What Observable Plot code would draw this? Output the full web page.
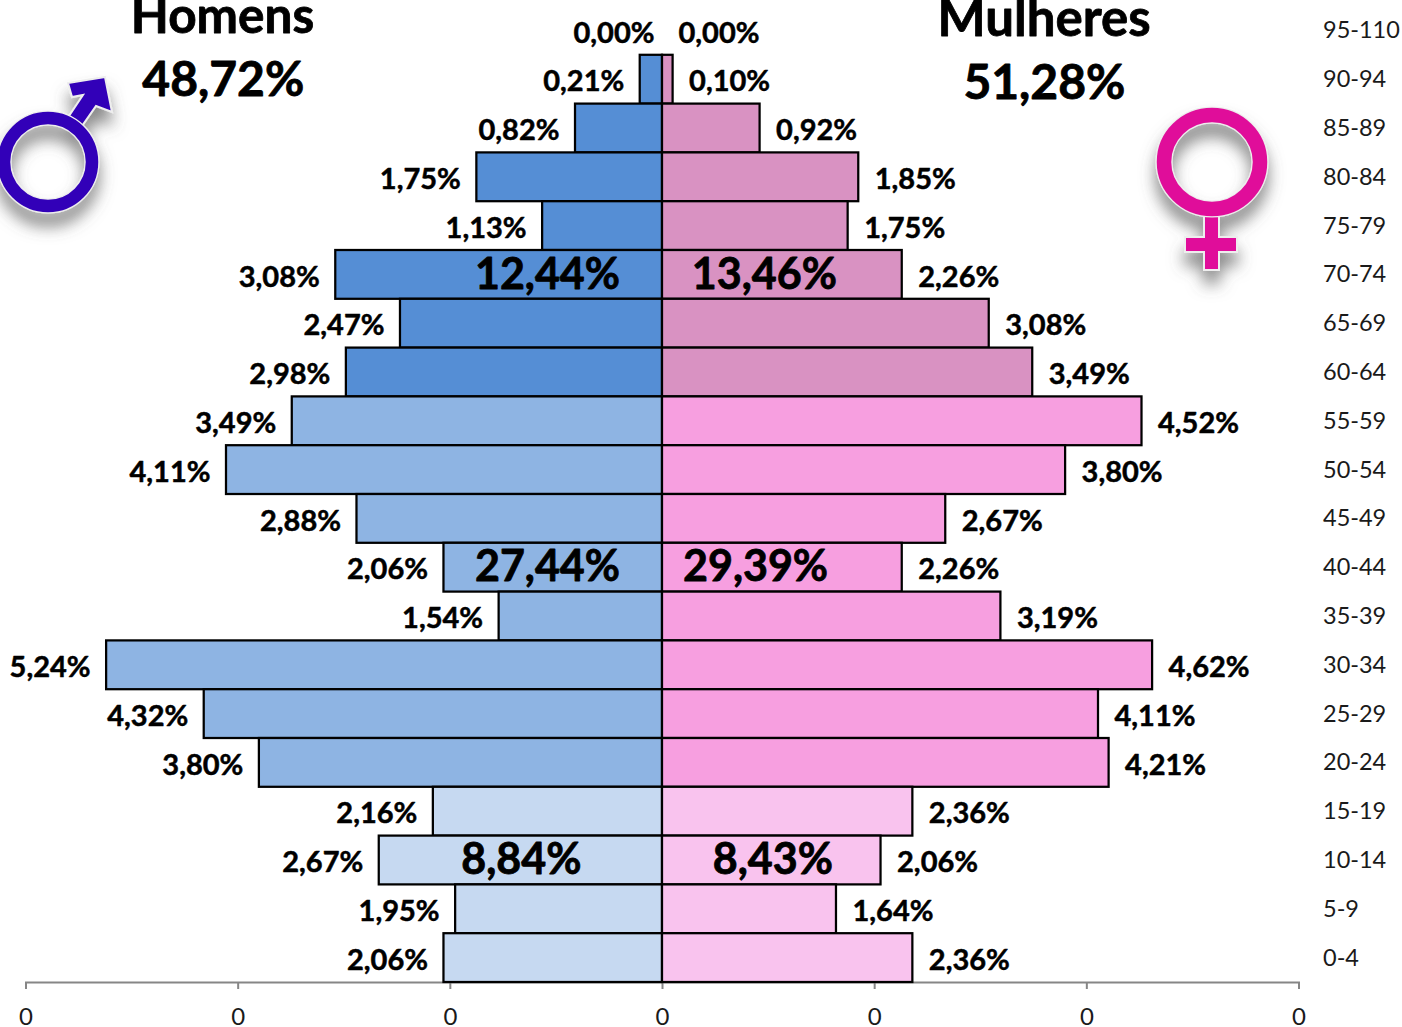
<!DOCTYPE html>
<html>
<head>
<meta charset="utf-8">
<script src="https://cdn.jsdelivr.net/npm/d3@7"></script>
<script src="https://cdn.jsdelivr.net/npm/@observablehq/plot@0.6"></script>
<style>
html,body{margin:0;padding:0;background:#fff;}
svg{display:block;}
</style>
</head>
<body>
<div id="chart"></div>
<script>
const ages = ["95-110","90-94","85-89","80-84","75-79","70-74","65-69","60-64","55-59","50-54","45-49","40-44","35-39","30-34","25-29","20-24","15-19","10-14","5-9","0-4"];
const men = [0.00,0.21,0.82,1.75,1.13,3.08,2.47,2.98,3.49,4.11,2.88,2.06,1.54,5.24,4.32,3.80,2.16,2.67,1.95,2.06];
const women = [0.00,0.10,0.92,1.85,1.75,2.26,3.08,3.49,4.52,3.80,2.67,2.26,3.19,4.62,4.11,4.21,2.36,2.06,1.64,2.36];
const cohort = ["old","old","old","old","old","old","old","old","adult","adult","adult","adult","adult","adult","adult","adult","young","young","young","young"];
const groupText = ["12,44%","13,46%","27,44%","29,39%","8,84%","8,43%"];
const groupAge = ["70-74","70-74","40-44","40-44","10-14","10-14"];
const groupX = [-1.084,0.96,-1.084,0.877,-1.33,1.04];
const headText = ["Homens","48,72%","Mulheres","51,28%"];
const headAge = ["95-110","90-94","95-110","90-94"];
const headX = [-4.148,-4.14,3.597,3.60];
const axisTicks = [-6,-4,-2,0,2,4,6];

const fmt = v => v.toFixed(2).replace(".", ",") + "%";
const rows = ages.flatMap((age, i) => [
  {age, v: -men[i], key: "m-" + cohort[i], label: fmt(men[i])},
  {age, v: women[i], key: "f-" + cohort[i], label: fmt(women[i])}
]);
const FONT = "Lato, 'Open Sans', sans-serif";

function symbols() {
  const g = d3.create("svg:g");
  const defs = g.append("defs");
  const f = defs.append("filter").attr("id","sh").attr("x","-30%").attr("y","-30%").attr("width","160%").attr("height","170%");
  f.append("feDropShadow").attr("dx",0).attr("dy",13).attr("stdDeviation",8).attr("flood-color","#555").attr("flood-opacity",0.7);

  const male = g.append("g").attr("filter","url(#sh)");
  const maleArrow = "M68,83 L105,77 L112,112 L96,106 L82,126 L69,116 L83,95 L72,97 Z";
  male.append("path").attr("d",maleArrow).attr("fill","#3300b8").attr("stroke","#eee").attr("stroke-width",2);
  male.append("circle").attr("cx",48).attr("cy",162).attr("r",44).attr("fill","none").attr("stroke","#eee").attr("stroke-width",15);
  male.append("circle").attr("cx",48).attr("cy",162).attr("r",44).attr("fill","none").attr("stroke","#3300b8").attr("stroke-width",12.5);

  const female = g.append("g").attr("filter","url(#sh)");
  const cross = "M1204,212 H1219 V237 H1237 V252 H1219 V270 H1204 V252 H1185 V237 H1204 Z";
  female.append("path").attr("d",cross).attr("fill","#e0109a").attr("stroke","#eee").attr("stroke-width",2);
  female.append("ellipse").attr("cx",1212).attr("cy",162).attr("rx",48).attr("ry",47).attr("fill","none").attr("stroke","#eee").attr("stroke-width",17);
  female.append("ellipse").attr("cx",1212).attr("cy",162).attr("rx",48).attr("ry",47).attr("fill","none").attr("stroke","#e0109a").attr("stroke-width",14.5);
  return g.node();
}

const bold = {fontWeight: 700, fill: "#000", stroke: "#000", fontFamily: FONT};
const head = (i, dy, fontSize) => Plot.text([headText[i]], {
  x: () => headX[i], y: () => headAge[i], text: d => d,
  dy, fontSize, ...bold, strokeWidth: 0.8
});

const chart = Plot.plot({
  width: 1402,
  height: 1027,
  marginLeft: 25.5,
  marginRight: 103.5,
  marginTop: 6,
  marginBottom: 45,
  style: {background: "#fff", fontFamily: FONT, color: "#000", overflow: "visible"},
  x: {domain: [-6, 6], axis: null},
  y: {domain: ages, padding: 0, round: false, axis: null},
  color: {
    domain: ["m-old","m-adult","m-young","f-old","f-adult","f-young"],
    range: ["#558ed5","#8eb4e3","#c6d9f1","#d992c2","#f79fe0","#f9c3ee"],
    legend: false
  },
  marks: [
    Plot.frame({anchor: "bottom", stroke: "#868686", strokeWidth: 2}),
    Plot.axisX({
      anchor: "bottom", ticks: axisTicks, tickFormat: () => "0", tickSize: 7, tickPadding: 18,
      stroke: "#868686", strokeWidth: 2, fill: "#1a1a1a", fontSize: 24, label: null, fontFamily: FONT
    }),
    Plot.axisY({
      anchor: "right", tickSize: 0, tickPadding: 24, label: null,
      fill: "#1a1a1a", fontSize: 23.5, fontFamily: FONT
    }),
    Plot.barX(rows, {
      x1: 0, x2: "v", y: "age", fill: "key", stroke: "#000", strokeWidth: 2.25
    }),
    Plot.text(rows, {
      x: "v", y: "age", text: "label",
      textAnchor: "end", filter: d => d.key[0] === "m" && d.v !== 0, dx: -16, dy: 2.5,
      fontSize: 29, ...bold, strokeWidth: 0.5
    }),
    Plot.text(rows, {
      x: "v", y: "age", text: "label",
      textAnchor: "end", filter: d => d.key[0] === "m" && d.v === 0, dx: -8, dy: 2.5,
      fontSize: 29, ...bold, strokeWidth: 0.5
    }),
    Plot.text(rows, {
      x: "v", y: "age", text: "label",
      textAnchor: "start", filter: d => d.key[0] === "f", dx: 16, dy: 2.5,
      fontSize: 29, ...bold, strokeWidth: 0.5
    }),
    Plot.text(groupText, {
      x: (d, i) => groupX[i], y: (d, i) => groupAge[i], text: d => d,
      fontSize: 43, ...bold, strokeWidth: 0.8
    }),
    head(0, -14, 49.5),
    head(1, 1, 48),
    head(2, -11, 51),
    head(3, 4, 48),
    symbols
  ]
});
document.getElementById("chart").append(chart);
</script>
</body>
</html>
